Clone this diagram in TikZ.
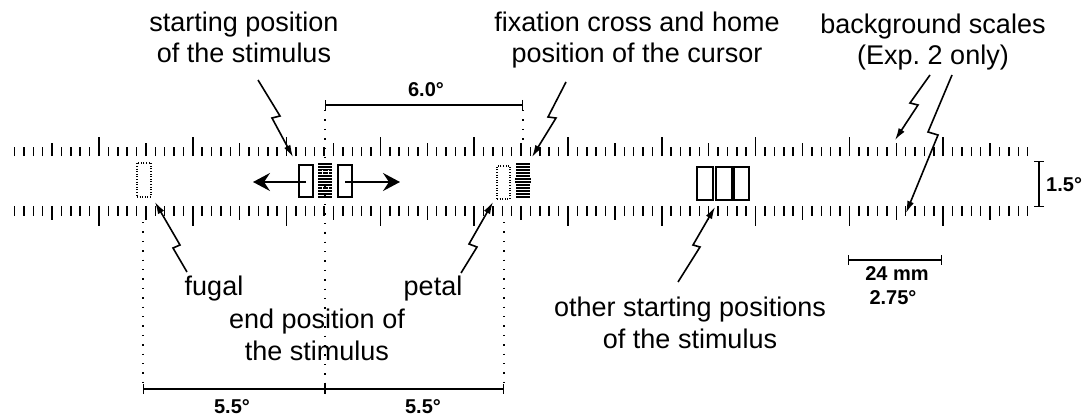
\documentclass[tikz,border=0pt]{standalone}
\usepackage{fontspec}
\setmainfont{Liberation Sans}
\usetikzlibrary{arrows.meta}
\begin{document}
\begin{tikzpicture}[x=1pt,y=-1pt,
  lbl/.style={font=\fontsize{27}{31.5}\selectfont, align=center, inner sep=0pt, anchor=base},
  deg/.style={font=\bfseries\fontsize{20}{23}\selectfont, inner sep=0pt, anchor=base},
  bolt/.style={line width=1.6pt, line join=miter, -{Latex[length=12pt,width=7pt]}},
  tick/.style={line width=1.5pt},
  dim/.style={line width=1.1pt, {Bar[width=10pt,line width=1.3pt]}-{Bar[width=10pt,line width=1.3pt]}},
  dotline/.style={line width=1.4pt, dash pattern=on 1.4pt off 8pt},
  stim/.style={draw, line width=1.3pt},
  endbox/.style={draw, line width=1.1pt, dash pattern=on 1pt off 1.6pt, fill=white},
  stripe/.style={line width=1.8pt},
  bigarrow/.style={line width=1.9pt, -{Stealth[length=17pt,width=18pt,inset=6pt]}}]
\useasboundingbox (0,0) rectangle (1083,417);

% background scales
\foreach \i in {-9,...,99}{
  \pgfmathsetmacro{\xx}{99+9.38*\i}
  \pgfmathtruncatemacro{\mten}{mod(\i+100,10)}
  \pgfmathtruncatemacro{\mfive}{mod(\i+100,5)}
  \ifnum\mten=0
    \draw[tick] (\xx,156) -- (\xx,137);
    \draw[tick] (\xx,206) -- (\xx,226);
  \else\ifnum\mfive=0
    \draw[tick] (\xx,156) -- (\xx,143);
    \draw[tick] (\xx,206) -- (\xx,220);
  \else
    \draw[tick] (\xx,156) -- (\xx,147);
    \draw[tick] (\xx,206) -- (\xx,216);
  \fi\fi
}

% dotted guide lines
\draw[dotline] (325,110) -- (325,384);
\draw[dotline] (523,110) -- (523,140);
\draw[dotline] (143,222) -- (143,384);
\draw[dotline] (504,222) -- (504,384);

% dimension bars
\coordinate (d6a) at (325,105); \coordinate (d6b) at (523,105);
\draw[dim] (d6a) -- (d6b);
\node[deg] (t6) at (426,97) {6.0°};
\coordinate (d5a) at (143,389); \coordinate (d5m) at (325,389); \coordinate (d5b) at (504,389);
\draw[dim] (d5a) -- (d5m);
\draw[dim] (d5m) -- (d5b);
\node[deg] (t5a) at (232,413) {5.5°};
\node[deg] (t5b) at (423,413) {5.5°};
\coordinate (mma) at (848,260); \coordinate (mmb) at (942,260);
\draw[dim] (mma) -- (mmb);
\node[deg] (tmm) at (897,280) {24 mm};
\node[deg] (tdeg) at (893,304) {2.75°};
\coordinate (h1) at (1039,161); \coordinate (h2) at (1039,207);
\draw[dim] (h1) -- (h2);
\node[deg, anchor=base west] (t15) at (1046,191) {1.5°};

% starting stimulus with motion arrows
\coordinate (sl) at (306,182); \coordinate (sr) at (345,182);
\coordinate (al) at (253,182); \coordinate (ar) at (400,182);
\draw[bigarrow] (sl) -- (al);
\draw[bigarrow] (sr) -- (ar);
\node[stim, minimum width=14pt, minimum height=32pt, inner sep=0pt] (boxl) at (306,181) {};
\node[stim, minimum width=14pt, minimum height=32pt, inner sep=0pt] (boxr) at (345,181) {};
\foreach \k in {0,...,11}{
  \draw[stripe] (318,{164+3*\k}) -- (332,{164+3*\k});
}
\draw[white, line width=1pt] (322,170) -- (322,174) (328,170) -- (328,174) (322,186) -- (322,190) (328,186) -- (328,190);

% fixation cross
\foreach \k in {0,...,11}{
  \draw[stripe] (516,{164+3*\k}) -- (530,{164+3*\k});
}
\draw[stripe] (515,{164+3*5}) -- (531,{164+3*5});
\draw[stripe] (515,{164+3*6}) -- (531,{164+3*6});

% end positions
\node[endbox, minimum width=14pt, minimum height=34pt, inner sep=0pt] (fugbox) at (144,180) {};
\node[endbox, minimum width=13pt, minimum height=33pt, inner sep=0pt] (petbox) at (503.5,182.5) {};

% other starting positions
\node[stim, minimum width=16pt, minimum height=33pt, inner sep=0pt] (o1) at (705,183.5) {};
\node[stim, minimum width=16pt, minimum height=33pt, inner sep=0pt] (o2) at (724,183.5) {};
\node[stim, minimum width=15pt, minimum height=33pt, inner sep=0pt] (o3) at (741.5,183.5) {};

% labels (base anchor = baseline of last line)
\node[lbl] (lstart) at (244,63) {starting position\\of the stimulus};
\node[lbl] (lfix) at (637,63) {fixation cross and home\\position of the cursor};
\node[lbl] (lbg) at (933,65) {background scales\\(Exp.~2 only)};
\node[lbl] (lfug) at (214,295) {fugal};
\node[lbl] (lpet) at (433,295) {petal};
\node[lbl] (lend) at (317,360) {end position of\\the stimulus};
\node[lbl] (loth) at (690,348) {other starting positions\\of the stimulus};

% lightning connectors
\coordinate (s1) at (258,80);  \coordinate (e1) at (293,157);
\draw[bolt] (s1) -- (280,116) -- (272,118) -- (e1);
\coordinate (s2) at (566,82);  \coordinate (e2) at (532,157);
\draw[bolt] (s2) -- (548,117) -- (556,118) -- (e2);
\coordinate (s3) at (930,75);  \coordinate (e3) at (895,140);
\draw[bolt] (s3) -- (910,103) -- (918,105) -- (e3);
\coordinate (s4) at (952,75);  \coordinate (e4) at (906,213);
\draw[bolt] (s4) -- (928,132) -- (938,135) -- (e4);
\coordinate (s5) at (187,272); \coordinate (e5) at (155,202);
\draw[bolt] (s5) -- (173,248) -- (180,245) -- (e5);
\coordinate (s6) at (461,273); \coordinate (e6) at (493,202);
\draw[bolt] (s6) -- (477,247) -- (469,244) -- (e6);
\coordinate (s7) at (678,282); \coordinate (e7) at (715,207);
\draw[bolt] (s7) -- (700,247) -- (693,245) -- (e7);
\end{tikzpicture}
\end{document}
